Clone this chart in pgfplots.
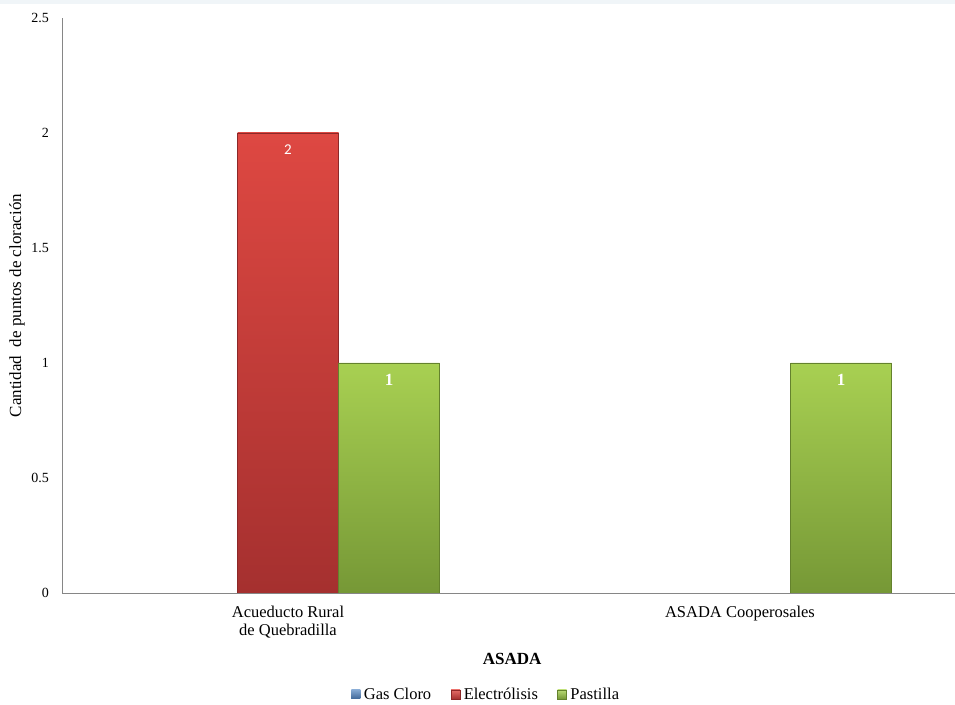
\documentclass[border=0pt]{standalone}
\usepackage{pgfplots}
\pgfplotsset{compat=1.18}
\usepackage{fontspec}
\setmainfont{Liberation Serif}
\newfontfamily\calibri{Carlito}

\definecolor{axisgray}{RGB}{134,134,134}
\definecolor{gasblue}{RGB}{79,129,189}
\definecolor{redtop}{RGB}{222,72,66}
\definecolor{redbot}{RGB}{165,48,47}
\definecolor{redline}{RGB}{140,40,40}
\definecolor{greentop}{RGB}{168,208,82}
\definecolor{greenbot}{RGB}{118,152,54}
\definecolor{greenline}{RGB}{100,130,45}
\definecolor{topband}{RGB}{240,245,248}

\begin{document}
\begin{tikzpicture}
\useasboundingbox (0,0) rectangle (955bp,705bp);
\fill[topband] (0,701bp) rectangle (955bp,705bp);
\begin{axis}[
  at={(62bp,112bp)}, anchor=south west,
  scale only axis,
  width=904bp, height=575bp,
  ybar=0pt, bar width=101bp,
  xmin=-0.5, xmax=1.5,
  ymin=0, ymax=2.5,
  xtick={0,1},
  xticklabels={{Acueducto Rural\\de Quebradilla}, {ASADA Cooperosales}},
  ytick={0,0.5,1,1.5,2,2.5},
  major tick length=0pt,
  axis x line*=bottom, axis y line*=left,
  axis line style={axisgray, line width=0.8bp},
  /pgf/number format/assume math mode=true,
  yticklabel style={font=\fontsize{14bp}{16bp}\selectfont, inner sep=0pt, anchor=east, xshift=-13bp},
  xticklabel style={font=\fontsize{16.5bp}{18bp}\selectfont, align=center, inner sep=0pt, anchor=north, yshift=-13bp},
  xlabel={ASADA},
  ylabel={Cantidad\ \ de puntos de cloración},
  every axis x label/.style={at={(axis description cs:0.498,-0.1148)}, anchor=center, font=\fontsize{17bp}{19bp}\selectfont\bfseries},
  every axis y label/.style={at={(axis description cs:-0.0498,0.5)}, anchor=center, rotate=90, font=\fontsize{17bp}{19bp}\selectfont},
  legend columns=3,
  legend style={at={(axis description cs:0.469,-0.1765)}, anchor=center, draw=none, fill=none,
    font=\fontsize{16.5bp}{18bp}\selectfont, column sep=2bp, inner sep=0pt,
    /tikz/every even column/.append style={column sep=18bp},
    nodes={inner sep=1.5bp}},
  legend cell align=left,
]
% Gas Cloro: no chlorination points in either ASADA
\addplot[draw=none, fill=gasblue,
  legend image code/.code={\fill[top color=gasblue!70!white, bottom color=gasblue!80!black] (0bp,-4.5bp) rectangle (9bp,4.5bp);}]
  coordinates {(0,0) (1,0)};
\addlegendentry{Gas Cloro}
% Electrólisis
\addplot[draw=redline, line width=0.5bp, top color=redtop, bottom color=redbot,
  nodes near coords,
  every node near coord/.append style={anchor=north, yshift=-8bp, text=white, font=\calibri\fontsize{15bp}{17bp}\selectfont},
  legend image code/.code={\fill[top color=redtop!80!white, bottom color=redbot] (0bp,-4.5bp) rectangle (9bp,4.5bp);}]
  coordinates {(0,2)};
\addlegendentry{Electrólisis}
% Pastilla
\addplot[draw=greenline, line width=0.5bp, top color=greentop, bottom color=greenbot,
  nodes near coords,
  every node near coord/.append style={anchor=north, yshift=-8bp, text=white, font=\fontsize{17bp}{19bp}\selectfont\bfseries},
  legend image code/.code={\fill[top color=greentop!80!white, bottom color=greenbot] (0bp,-4.5bp) rectangle (9bp,4.5bp);}]
  coordinates {(0,1) (1,1)};
\addlegendentry{Pastilla}
\end{axis}
\end{tikzpicture}
\end{document}
